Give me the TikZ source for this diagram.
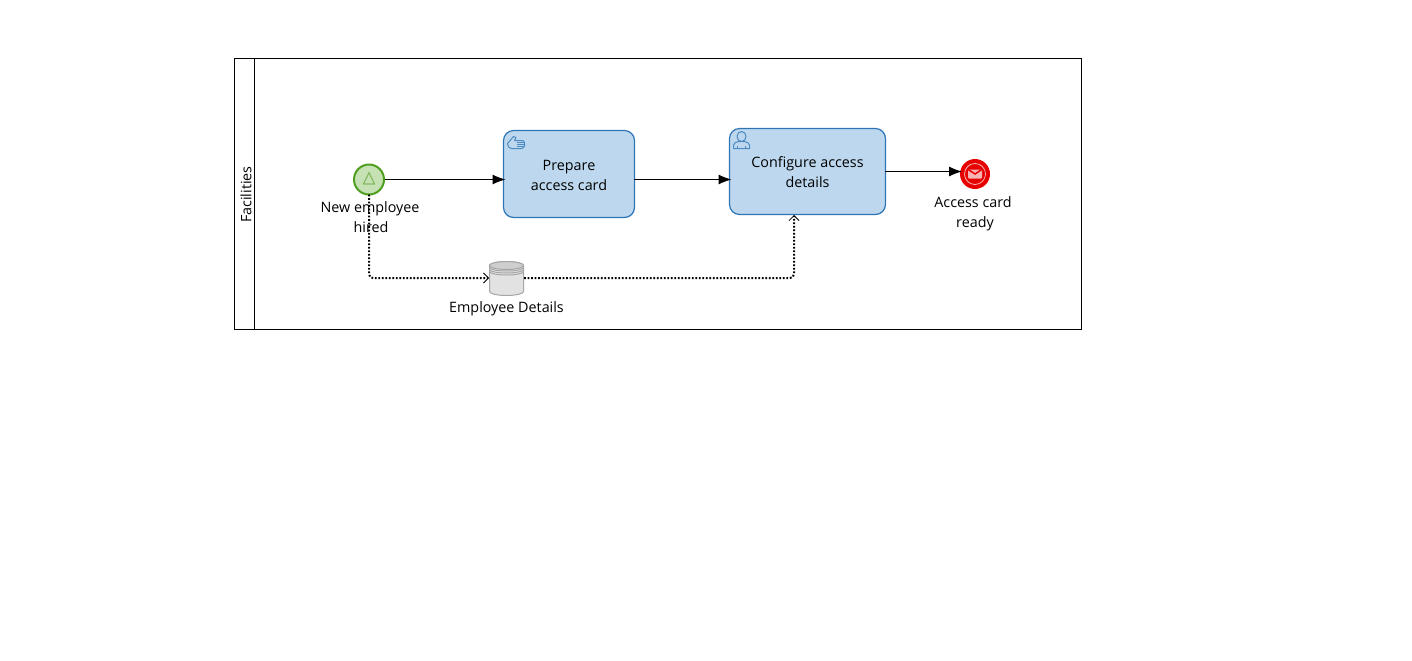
\documentclass[tikz,border=0pt]{standalone}
\usepackage{fontspec}
\setmainfont{Open Sans}
\usetikzlibrary{positioning, arrows.meta}
\definecolor{taskfill}{HTML}{BDD8EE}
\definecolor{taskline}{HTML}{2E75B6}
\definecolor{startfill}{HTML}{C6E2B5}
\definecolor{startline}{HTML}{4F9E1F}
\definecolor{endred}{HTML}{E60000}
\definecolor{endpale}{HTML}{F7B4B4}
\definecolor{storefill}{HTML}{E2E2E2}
\definecolor{storeline}{HTML}{A6A6A6}
\tikzset{
  lbl/.style={font=\fontsize{8.15}{11.34}\selectfont, inner sep=0pt, align=center},
  pool/.style={draw, line width=0.02cm, inner sep=0pt, outer sep=0pt},
  task/.style={draw=taskline, fill=taskfill, line width=0.024cm, rounded corners=0.2cm, inner sep=0pt, outer sep=0pt, lbl},
  event/.style={circle, minimum size=0.6cm, inner sep=0pt, outer sep=0pt},
  flow/.style={line width=0.02cm, shorten >=-0.04cm, -{Latex[length=0.26cm, width=0.2cm]}},
  assoc/.style={line width=0.04cm, dash pattern=on 0.035cm off 0.035cm, rounded corners=0.08cm,
    -{Straight Barb[length=0.1cm, width=0.2cm, line width=0.016cm]}},
  icon/.style={draw=taskline!85!white, line width=0.02cm, line join=round},
}
\newcommand*{\handicon}{%
\draw[icon, fill=taskfill] (4,13) -- (10,6) -- (12.5,7) -- (11,10) -- (19,10) to[out=0, in=90] (21,13) -- (21,15) to[out=-90, in=0] (18,18) -- (8,18) to[out=180, in=-90] (4,13) -- cycle;
\foreach \yy in {12,14,16} {\draw[icon, line width=0.012cm] (13,\yy) -- (20.5,\yy);}}
\newcommand*{\usericon}{%
\draw[icon, fill=taskfill] (4,20) -- (4,16.5) to[out=90, in=200] (9,13) -- (15,13) to[out=-20, in=90] (20,16.5) -- (20,20) -- cycle;
\draw[icon, fill=taskfill] (12,8) ellipse[x radius=4.5, y radius=5];
\draw[icon, line width=0.012cm] (8,20) -- (8,17) (16,20) -- (16,17);}

\begin{document}
\begin{tikzpicture}[x=0.02cm, y=-0.02cm]
\useasboundingbox (0,0) rectangle (1412,660);

% pool and its header
\node[pool, minimum width=16.94cm, minimum height=5.42cm] (fac) at (658,194) {};
\node[pool, minimum width=0.4cm, minimum height=5.42cm] (fachead) at (244.5,194) {};
\node[lbl, rotate=90] (factext) at (246,194.5) {Facilities};

\node[task, minimum width=2.62cm, minimum height=1.74cm] (prep) at (569,174) {\rule{0pt}{7.4pt}Prepare\\access card};
\node[task, minimum width=3.12cm, minimum height=1.72cm] (conf) at (807.5,171.5) {\rule{0pt}{7pt}Configure access\\details};

% start event
\node[event, draw=startline, fill=startfill, line width=0.04cm] (hired) at (369,179.5) {};
\draw[draw=startline!70!white, line width=0.024cm, line join=round] (369,172.5) -- (374.5,184) -- (363.5,184) -- cycle;
\node[lbl, below=0.13cm of hired, xshift=0.02cm] (hiredlbl) {New employee\\\hspace{0.04cm}hired};

% end event
\node[event, fill=endred] (ready) at (975,174) {};
\draw[endpale, line width=0.016cm] (ready) circle[radius=10.5];
\node[fill=endpale, minimum width=0.28cm, minimum height=0.18cm, inner sep=0pt, rounded corners=0.02cm] (mail) at (ready) {};
\draw[endred, line width=0.03cm] (mail.north west) -- (mail.center) -- (mail.north east);
\node[lbl, below=0.15cm of ready, xshift=-0.04cm] (readylbl) {Access card\\\hspace{0.08cm}ready};

% data store
\node[minimum width=0.7cm, minimum height=0.7cm, inner sep=0pt, outer sep=0pt] (store) at (506.5,278) {};
\begin{scope}[shift={(store.center)}, draw=storeline, line width=0.02cm]
  \draw[fill=storefill] (-17,-12.5) -- (-17,13.5) arc[start angle=180, end angle=0, x radius=17, y radius=4] -- (17,-12.5) arc[start angle=0, end angle=-180, x radius=17, y radius=4];
  \draw[fill=storefill!80!gray] (0,-12.5) ellipse[x radius=17, y radius=4];
  \foreach \yy in {-10.5,-8.5,-6.5} {\draw (-17,\yy) arc[start angle=180, end angle=0, x radius=17, y radius=3.5];}
\end{scope}
\node[lbl, below=0.12cm of store] (storelbl) {Employee Details};

\begin{scope}[shift={(prep.north west)}]
  \handicon
\end{scope}
\begin{scope}[shift={(conf.north west)}]
  \usericon
\end{scope}

\draw[flow] (hired.east) ++(1,0) -- (hired.east -| prep.west);
\draw[flow] (hired.east -| prep.east) -- (hired.east -| conf.west);
\draw[flow] (conf.east) -- (conf.east -| ready.west);

\coordinate (confin) at (794,215);
\draw[assoc] (hired.south) |- (store.west);
\draw[assoc] (store.east) -| (confin);
\end{tikzpicture}
\end{document}
